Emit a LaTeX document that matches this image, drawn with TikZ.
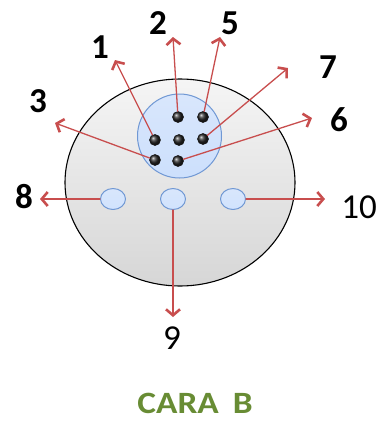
\documentclass[tikz,border=0pt]{standalone}
\usepackage{fontspec}
\setmainfont{Carlito}
\newfontfamily\carafont[FakeStretch=1.14]{Carlito}
\usetikzlibrary{arrows.meta,shapes.geometric}
\definecolor{rouge}{RGB}{200,78,78}
\definecolor{bleu}{RGB}{112,152,212}
\definecolor{bleuclair}{RGB}{200,220,250}
\definecolor{vert}{RGB}{104,140,52}

\begin{document}
\begin{tikzpicture}[line cap=round,line join=round,x=1pt,y=-1pt,
	fleche/.style={draw=rouge,line width=1.3pt,-{Straight Barb[length=6pt,width=14pt,line width=2.6pt]}},
	broche/.style={circle,inner sep=0pt,minimum size=11pt,ball color=black!85,draw=black!90,line width=0.6pt},
	trou/.style={ellipse,inner sep=0pt,minimum width=25pt,minimum height=21pt,draw=bleu,line width=1pt,top color=bleuclair!70,bottom color=bleuclair!110!bleu},
	num/.style={font=\fontsize{35}{35}\selectfont\bfseries},
	numfin/.style={font=\fontsize{35}{35}\selectfont}]
			\useasboundingbox (0,0) rectangle (385,421);
			%corps de la prise
			\shade[top color=gray!8,bottom color=gray!32,draw=black,line width=1.1pt] (180,182.5) ellipse (115 and 103.5);
			\shade[top color=bleuclair!70,bottom color=bleuclair!105!bleu,draw=bleu,line width=1pt] (179.5,136) circle (42);
			%broches
			\node[broche] (b2) at (178,117) {};
			\node[broche] (b5) at (203,117) {};
			\node[broche] (b1) at (155,140) {};
			\node[broche] (b0) at (179,140) {};
			\node[broche] (b7) at (203,139) {};
			\node[broche] (b3) at (155,160) {};
			\node[broche] (b6) at (178,161) {};
			%trous
			\node[trou] (t8) at (113,199) {};
			\node[trou] (t9) at (173,199) {};
			\node[trou] (t10) at (233,199) {};
			%bouts des fleches
			\coordinate (f1) at (115,60);
			\coordinate (f2) at (173,37);
			\coordinate (f5) at (220,37);
			\coordinate (f7) at (288,68);
			\coordinate (f6) at (312,118);
			\coordinate (f3) at (55,123);
			\coordinate (f8) at (40,199);
			\coordinate (f9) at (173,317);
			\coordinate (f10) at (325,199);
			\draw[fleche] (b1) -- (f1);
			\draw[fleche] (b2) -- (f2);
			\draw[fleche] (b5) -- (f5);
			\draw[fleche] (b7) -- (f7);
			\draw[fleche] (b6) -- (f6);
			\draw[fleche] (b3) -- (f3);
			\draw[fleche] (t8) -- (f8);
			\draw[fleche] (t9) -- (f9);
			\draw[fleche] (t10) -- (f10);
			%numeros
			\node[num] (n1) at (100,47) {1};
			\node[num] (n2) at (158,23) {2};
			\node[num] (n5) at (230,23) {5};
			\node[num] (n7) at (328,67) {7};
			\node[num] (n6) at (339,120) {6};
			\node[num] (n3) at (38,101) {3};
			\node[num] (n8) at (24,197) {8};
			\node[numfin] (n9) at (172,338) {9};
			\node[numfin] (n10) at (359,207) {10};
			\node[text=vert,inner sep=0pt,font=\carafont\fontsize{31}{31}\selectfont\bfseries] (titre) at (195,403) {CARA\hspace{0.45em}B};
\end{tikzpicture}
\end{document}
